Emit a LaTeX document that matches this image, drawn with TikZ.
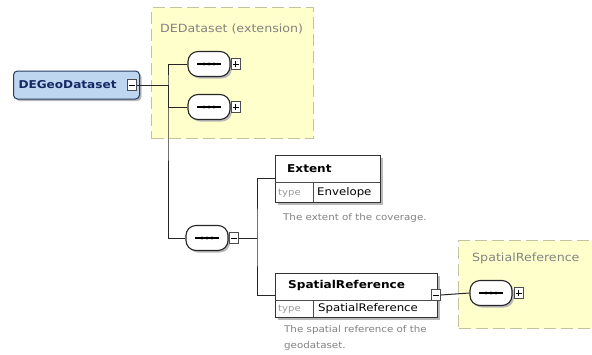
\documentclass[tikz,border=0pt]{standalone}
\usepackage{fontspec}
\setmainfont{DejaVu Sans}[FakeStretch=1.12]
\usetikzlibrary{shadows,calc}
\definecolor{grpfill}{RGB}{255,255,204}
\definecolor{grpline}{RGB}{195,195,160}
\definecolor{rootfill}{RGB}{190,214,240}
\definecolor{rootline}{RGB}{40,60,100}
\definecolor{roottext}{RGB}{20,40,100}
\definecolor{doctext}{RGB}{130,130,130}
\tikzset{
  group/.style={draw=grpline, fill=grpfill, dashed, dash pattern=on 12pt off 5pt, line width=1.3pt, inner sep=0, anchor=north west},
  grouptitle/.style={text=doctext, font=\fontsize{11.3}{13}\selectfont, anchor=west, inner sep=0},
  shade/.style={drop shadow={shadow xshift=2pt, shadow yshift=-2pt, fill=gray!55, opacity=1}},
  rootbox/.style={draw=rootline, fill=rootfill, line width=1pt, rounded corners=4pt, shade, inner sep=0, anchor=west,
    text=roottext, font=\bfseries\fontsize{10.8}{12}\selectfont},
  elembox/.style={draw=black!80, fill=white, line width=1.2pt, shade, inner sep=0, anchor=north west},
  elemname/.style={font=\bfseries\fontsize{10.8}{12}\selectfont, anchor=west, inner sep=0},
  typelbl/.style={font=\fontsize{9}{10}\selectfont, text=gray!80, anchor=west, inner sep=0},
  typename/.style={font=\fontsize{10.5}{12}\selectfont, anchor=west, inner sep=0},
  doc/.style={text=doctext, font=\fontsize{9.2}{16}\selectfont, anchor=west, inner sep=0, align=left},
  seqbox/.style={draw=black!85, fill=white, line width=1.1pt, rounded corners=10pt, minimum width=42pt, minimum height=25pt, inner sep=0, shade},
  pmbox/.style={draw=gray!60!black, fill=white, line width=0.8pt, minimum width=9pt, minimum height=11pt, inner sep=0},
  wire/.style={draw=black!85, line width=1pt},
}
\newcommand{\seqmark}[1]{%
  \draw[line width=1.2pt] ([xshift=-12pt]#1.center) -- ([xshift=12pt]#1.center);
  \foreach \dx in {-5,0,5} \fill ([xshift=\dx pt]#1.center) circle (1.6pt);}
\newcommand{\plusmark}[1]{%
  \draw[line width=0.9pt] ([xshift=2pt]#1.west) -- ([xshift=-2pt]#1.east);
  \draw[line width=0.9pt] ([yshift=-2.5pt]#1.north) -- ([yshift=2.5pt]#1.south);}
\newcommand{\minusmark}[1]{%
  \draw[line width=0.9pt] ([xshift=2pt]#1.west) -- ([xshift=-2pt]#1.east);}
\begin{document}
\begin{tikzpicture}[x=1pt,y=-1pt]
\useasboundingbox (0,0) rectangle (592,354);
\fill[white] (0,0) rectangle (592,354);

% extension group of DEGeoDataset
\node[group, minimum width=162pt, minimum height=131pt] (extgrp) at (151,7) {};
\node[grouptitle] (extgrpT) at (160,29) {DEDataset (extension)};

% group of the SpatialReference type
\node[group, minimum width=140pt, minimum height=88pt] (srgrp) at (458,240) {};
\node[grouptitle] (srgrpT) at (472,258) {SpatialReference};

% root element
\node[rootbox, minimum width=126pt, minimum height=28pt, text width=122pt, align=left] (root) at (13,85) {\hspace*{3pt}DEGeoDataset};
\node[pmbox] (rootpm) at (132,85) {};
\minusmark{rootpm}

% sequences inside the extension
\node[seqbox] (seqA) at (209,64) {};
\seqmark{seqA}
\node[pmbox, anchor=west] (seqApm) at (231,64) {};
\plusmark{seqApm}
\node[seqbox] (seqB) at (209,107) {};
\seqmark{seqB}
\node[pmbox, anchor=west] (seqBpm) at (231,107) {};
\plusmark{seqBpm}

% local sequence
\node[seqbox] (seqC) at (207,238) {};
\seqmark{seqC}
\node[pmbox, anchor=west] (seqCpm) at (229,238) {};
\minusmark{seqCpm}

% element Extent
\node[elembox, minimum width=105pt, minimum height=47pt] (extent) at (275,155) {};
\draw[black!70, line width=0.8pt] (275,182) -- (380,182);
\draw[black!70, line width=0.8pt] (313,182) -- (313,202);
\node[elemname] (extentN) at (287,169) {Extent};
\node[typelbl] (extentTL) at (278,193) {type};
\node[typename] (extentTN) at (317,193) {Envelope};
\node[doc] (extentD) at (283,218) {The extent of the coverage.};

% element SpatialReference
\node[elembox, minimum width=162pt, minimum height=44pt] (sref) at (275,273) {};
\draw[black!70, line width=0.8pt] (275,300) -- (437,300);
\draw[black!70, line width=0.8pt] (313,300) -- (313,317);
\node[elemname] (srefN) at (288,286) {SpatialReference};
\node[typelbl] (srefTL) at (278,309) {type};
\node[typename] (srefTN) at (318,309) {SpatialReference};
\node[doc, anchor=north west] (srefD) at (284,325) {The spatial reference of the\\geodataset.};
\node[pmbox] (srefpm) at (436,295) {};
\minusmark{srefpm}

% sequence of the SpatialReference type
\node[seqbox] (seqD) at (491,293) {};
\seqmark{seqD}
\node[pmbox, anchor=west] (seqDpm) at (514,293) {};
\plusmark{seqDpm}

% connectors
\coordinate (trunkA) at (168,85);
\coordinate (trunkB) at (257,238);
\draw[wire] (rootpm.east) -- (trunkA);
\draw[wire] (seqA.west) -| (trunkA) |- (seqC.west);
\draw[wire] (seqB.west) -| (trunkA);
\draw[wire] (seqCpm.east) -- (trunkB);
\draw[wire] (extent.west |- 0,178) -| (trunkB) |- (sref.west |- 0,295);
\draw[wire] (srefpm.east) -- (seqD.west);
\end{tikzpicture}
\end{document}
